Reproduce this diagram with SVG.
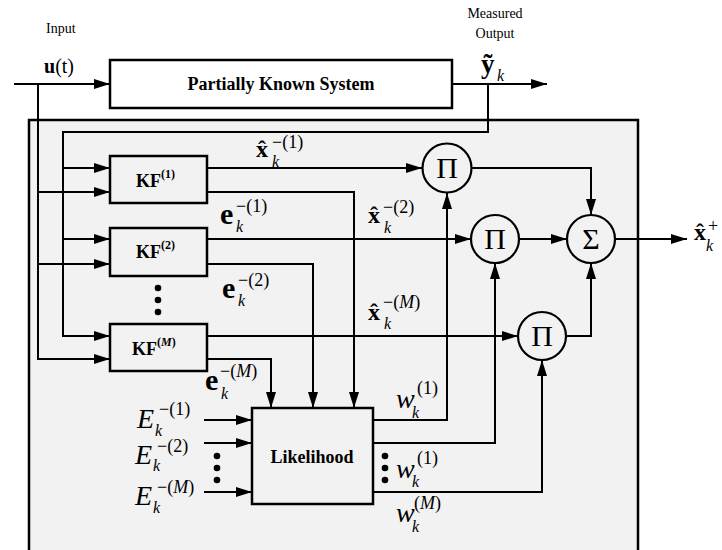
<svg xmlns="http://www.w3.org/2000/svg" width="722" height="550" viewBox="0 0 722 550">
<defs>
<marker id="ah" markerUnits="userSpaceOnUse" markerWidth="16" markerHeight="10" viewBox="0 0 16 10" refX="16" refY="5" orient="auto">
<path d="M0,0 L16,5 L0,10 z" fill="#000"/>
</marker>
</defs>
<style>
text{font-family:"Liberation Serif","Times New Roman",serif;fill:#000}
.lbl{font-size:14px}
.box{fill:#f2f2f2;stroke:#000;stroke-width:2.5}
.sys{fill:#fff;stroke:#000;stroke-width:2.5}
.cir{fill:#f2f2f2;stroke:#000;stroke-width:2.2}
.bt{font-weight:bold;font-size:18px}
.kf{font-weight:bold;font-size:18px}
.kfs{font-weight:bold;font-size:12px}
.op{font-size:30px;text-anchor:middle}
.bx{font-weight:bold;font-size:24px}
.be{font-weight:bold;font-size:30px}
.iv{font-style:italic;font-size:28px}
.sub{font-style:italic;font-size:16px;font-weight:normal}
.sup{font-size:18px;font-weight:normal;font-style:normal}
.mi{font-style:italic}
.c path{fill:none;stroke:#000;stroke-width:2}
.c .a{marker-end:url(#ah)}
.dot{fill:#000}
</style>
<rect x="29" y="120" width="609" height="440" fill="#f2f2f2" stroke="#000" stroke-width="2.5"/>

<text class="lbl" x="46" y="33">Input</text>
<text class="lbl" x="495" y="18" text-anchor="middle">Measured</text>
<text class="lbl" x="495" y="38" text-anchor="middle">Output</text>
<text x="44" y="73" font-size="20"><tspan font-weight="bold">u</tspan>(t)</text>

<g id="system">
<rect class="sys" x="110" y="60" width="342" height="48"/>
<text class="bt" x="281" y="90" text-anchor="middle">Partially Known System</text>
</g>

<g id="y-label">
<text x="481" y="73" font-weight="bold" font-size="27">y<tspan dx="-11">˜</tspan><tspan class="sub" x="497" y="81">k</tspan></text>
</g>

<g class="c" id="connectors">
<path class="a" d="M14,84 H110"/>
<path class="a" d="M452,84 H547"/>
<path class="a" d="M488,84 V132 H63 V336 H110"/>
<path class="a" d="M63,168 H110"/>
<path class="a" d="M63,239 H110"/>
<path class="a" d="M38,84 V359 H110"/>
<path class="a" d="M38,192 H110"/>
<path class="a" d="M38,264 H110"/>
<path class="a" d="M207,168 H422"/>
<path class="a" d="M207,192 H354 V408"/>
<path class="a" d="M207,239 H471"/>
<path class="a" d="M207,264 H313 V408"/>
<path class="a" d="M207,336 H518"/>
<path class="a" d="M207,359 H271 V408"/>
<path class="a" d="M472,168 H591 V215"/>
<path class="a" d="M519,239 H567"/>
<path class="a" d="M566,336 H591 V263"/>
<path class="a" d="M615,239 H687"/>
<path class="a" d="M373,420 H447 V193"/>
<path class="a" d="M373,443 H495 V263"/>
<path class="a" d="M373,492 H542 V360"/>
<path class="a" d="M204,420 H252"/>
<path class="a" d="M204,443 H252"/>
<path class="a" d="M204,492 H252"/>
</g>

<g id="kf1">
<rect class="box" x="110" y="156" width="97" height="47"/>
<text class="kf" x="136" y="187">KF<tspan class="kfs" dy="-9">(1)</tspan></text>
</g>
<g id="kf2">
<rect class="box" x="110" y="228" width="97" height="48"/>
<text class="kf" x="136" y="258">KF<tspan class="kfs" dy="-9">(2)</tspan></text>
</g>
<g id="kfm">
<rect class="box" x="110" y="324" width="97" height="47"/>
<text class="kf" x="132" y="355">KF<tspan class="kfs" dy="-9">(<tspan class="mi">M</tspan>)</tspan></text>
</g>
<g id="kf-dots">
<circle class="dot" cx="158" cy="288" r="3.3"/>
<circle class="dot" cx="158" cy="300" r="3.3"/>
<circle class="dot" cx="158" cy="312" r="3.3"/>
</g>

<g id="likelihood">
<rect class="box" x="252" y="408" width="121" height="96"/>
<text class="bt" x="312" y="463" text-anchor="middle">Likelihood</text>
</g>

<g id="pi1">
<circle class="cir" cx="447" cy="168" r="24.5"/>
<text class="op" x="447" y="178">Π</text>
</g>
<g id="pi2">
<circle class="cir" cx="495" cy="239" r="24"/>
<text class="op" x="495" y="249">Π</text>
</g>
<g id="pi3">
<circle class="cir" cx="542" cy="336" r="24"/>
<text class="op" x="542" y="346">Π</text>
</g>
<g id="sigma">
<circle class="cir" cx="591" cy="239" r="24"/>
<text class="op" x="591" y="249">Σ</text>
</g>

<g id="xhat1">
<text class="bx" x="256" y="157">x<tspan dx="-10">ˆ</tspan><tspan class="sub" x="272" y="167">k</tspan><tspan class="sup" x="272" y="148">−(1)</tspan></text>
</g>
<g id="e1">
<text class="be" x="220" y="224">e<tspan class="sub" x="236" y="232">k</tspan><tspan class="sup" x="236" y="212">−(1)</tspan></text>
</g>
<g id="xhat2">
<text class="bx" x="368" y="223">x<tspan dx="-10">ˆ</tspan><tspan class="sub" x="384" y="233">k</tspan><tspan class="sup" x="383" y="213">−(2)</tspan></text>
</g>
<g id="e2">
<text class="be" x="222" y="298">e<tspan class="sub" x="238" y="306">k</tspan><tspan class="sup" x="238" y="286">−(2)</tspan></text>
</g>
<g id="xhatm">
<text class="bx" x="368" y="320">x<tspan dx="-10">ˆ</tspan><tspan class="sub" x="384" y="329">k</tspan><tspan class="sup" x="383" y="308">−(<tspan class="mi">M</tspan>)</tspan></text>
</g>
<g id="em">
<text class="be" x="205" y="390">e<tspan class="sub" x="221" y="399">k</tspan><tspan class="sup" x="220" y="377">−(<tspan class="mi">M</tspan>)</tspan></text>
</g>

<g id="E1">
<text class="iv" x="137" y="428">E<tspan class="sub" x="155" y="436">k</tspan><tspan class="sup" x="159" y="415">−(1)</tspan></text>
</g>
<g id="E2">
<text class="iv" x="135" y="464">E<tspan class="sub" x="153" y="471">k</tspan><tspan class="sup" x="157" y="452">−(2)</tspan></text>
</g>
<g id="EM">
<text class="iv" x="135" y="505">E<tspan class="sub" x="153" y="513">k</tspan><tspan class="sup" x="157" y="493">−(<tspan class="mi">M</tspan>)</tspan></text>
</g>
<g id="E-dots">
<circle class="dot" cx="217" cy="456" r="3.3"/>
<circle class="dot" cx="217" cy="468" r="3.3"/>
<circle class="dot" cx="217" cy="480" r="3.3"/>
</g>

<g id="w1">
<text class="iv" x="396" y="408">w<tspan class="sub" x="412" y="418">k</tspan><tspan class="sup" x="417" y="394">(1)</tspan></text>
</g>
<g id="w1b">
<text class="iv" x="396" y="478">w<tspan class="sub" x="412" y="487">k</tspan><tspan class="sup" x="417" y="464">(1)</tspan></text>
</g>
<g id="wm">
<text class="iv" x="396" y="522">w<tspan class="sub" x="412" y="532">k</tspan><tspan class="sup" x="414" y="509">(<tspan class="mi">M</tspan>)</tspan></text>
</g>
<g id="w-dots">
<circle class="dot" cx="385" cy="456" r="3.3"/>
<circle class="dot" cx="385" cy="468" r="3.3"/>
<circle class="dot" cx="385" cy="480" r="3.3"/>
</g>

<g id="xplus">
<text class="bx" x="694" y="240">x<tspan dx="-10">ˆ</tspan><tspan class="sub" x="706" y="251">k</tspan><tspan class="sup" x="708" y="232">+</tspan></text>
</g>
</svg>
